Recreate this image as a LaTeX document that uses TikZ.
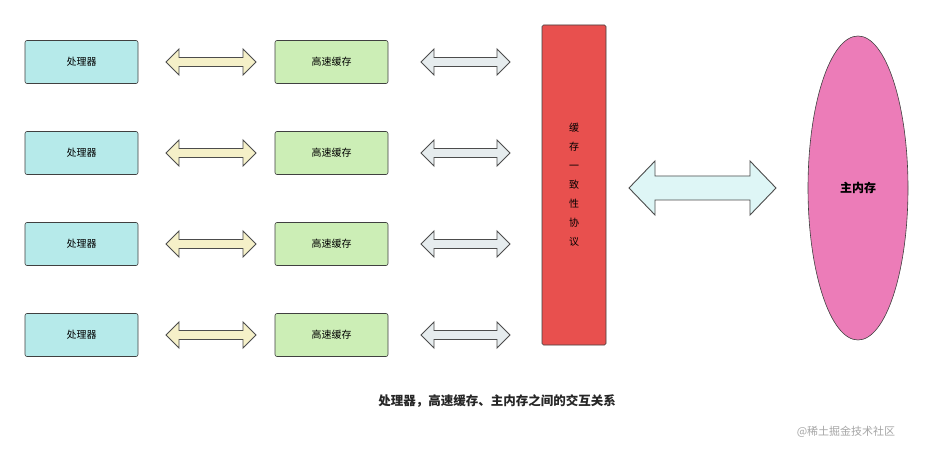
\documentclass[tikz,border=0pt]{standalone}
\usepackage{fontspec}
\usetikzlibrary{shapes.geometric}
\setmainfont{Noto Sans CJK SC}
\definecolor{proccol}{RGB}{182,234,234}
\definecolor{cachecol}{RGB}{204,238,182}
\definecolor{arrA}{RGB}{245,240,200}
\definecolor{arrB}{RGB}{230,236,238}
\definecolor{arrC}{RGB}{222,246,246}
\definecolor{redcol}{RGB}{232,80,78}
\definecolor{pinkcol}{RGB}{236,124,184}
\begin{document}
\begin{tikzpicture}[x=1pt,y=-1pt,
  box/.style={draw=black!75,fill=#1,rounded corners=2pt,minimum width=113pt,minimum height=43pt,font=\fontsize{10}{12}\selectfont,line width=0.6pt},
  arr/.style={draw=black!70,fill=#1,line width=0.9pt,line join=miter}]
\useasboundingbox (0,0) rectangle (932,449);
\fill[white] (0,0) rectangle (932,449);
\newcommand\dbl[7]{% x1 x2 y shafthalf headhalf headlen color
  \path[arr=#7] (#1,#3) -- (#1+#6,#3-#5) -- (#1+#6,#3-#4) -- (#2-#6,#3-#4) -- (#2-#6,#3-#5) -- (#2,#3) -- (#2-#6,#3+#5) -- (#2-#6,#3+#4) -- (#1+#6,#3+#4) -- (#1+#6,#3+#5) -- cycle;}
\foreach \y/\i in {62/1,153/2,244/3,335/4}{
  \node[box=proccol] (p\i) at (81.5,\y) {处理器};
  \node[box=cachecol] (c\i) at (331.5,\y) {高速缓存};
  \dbl{166}{256}{\y}{4.5}{13}{13}{arrA}
  \dbl{421}{510}{\y}{4.5}{13}{13}{arrB}
}
\node[draw=black!75,fill=redcol,rounded corners=1.5pt,minimum width=64pt,minimum height=320pt,line width=0.6pt,
  font=\fontsize{10}{19}\selectfont,align=center] (coh) at (574,185) {缓\\存\\一\\致\\性\\协\\议};
\dbl{629}{776}{188}{12}{27}{26}{arrC}
\node[draw=black!75,fill=pinkcol,ellipse,minimum width=100pt,minimum height=304pt,inner sep=0pt,line width=0.6pt,
  font=\bfseries\fontsize{12}{14}\selectfont] (mem) at (858,188) {主内存};
\node[font=\bfseries\fontsize{12.5}{15}\selectfont,text=black!85] (cap) at (497,401) {处理器，高速缓存、主内存之间的交互关系};
\node[font=\fontsize{11}{13}\selectfont,text=black!35] (wm) at (846,432) {@稀土掘金技术社区};
\end{tikzpicture}
\end{document}
